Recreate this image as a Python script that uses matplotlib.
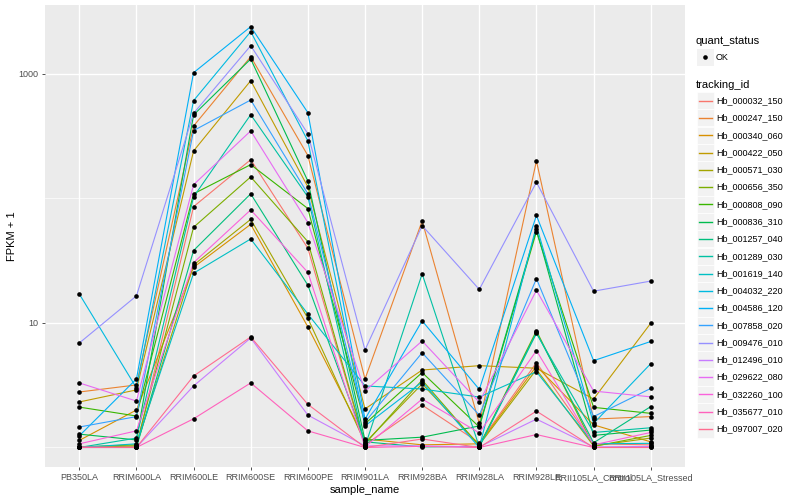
import matplotlib
matplotlib.use("Agg")
import matplotlib.pyplot as plt
from matplotlib.patches import Rectangle
import numpy as np

plt.rcParams['font.family'] = ['Liberation Sans', 'DejaVu Sans']

samples = ["PB350LA", "RRIM600LA", "RRIM600LE", "RRIM600SE", "RRIM600PE",
           "RRIM901LA", "RRIM928BA", "RRIM928LA", "RRIM928LE",
           "RRII105LA_Control", "RRII105LA_Stressed"]

tracking_ids = ["Hb_000032_150", "Hb_000247_150", "Hb_000340_060", "Hb_000422_050",
                "Hb_000571_030", "Hb_000656_350", "Hb_000808_090", "Hb_000836_310",
                "Hb_001257_040", "Hb_001289_030", "Hb_001619_140", "Hb_004032_220",
                "Hb_004586_120", "Hb_007858_020", "Hb_009476_010", "Hb_012496_010",
                "Hb_029622_080", "Hb_032260_100", "Hb_035677_010", "Hb_097007_020"]

# ggplot default hue palette for 20 levels
hue_colors = ["#F8766D", "#EA8331", "#D89000", "#C09B00", "#A3A500", "#7CAE00",
              "#39B600", "#00BB4E", "#00BF7D", "#00C1A3", "#00BFC4", "#00BAE0",
              "#00B0F6", "#35A2FF", "#9590FF", "#C77CFF", "#E76BF3", "#FA62DB",
              "#FF62BC", "#FF6C90"]

# FPKM per sample (same order as samples)
hb_000032_150 = [0, 0.01, 85, 204, 38.8, 0.05, 1.19, 0.09, 3.8, 0.07, 0.05]
hb_000247_150 = [1.79, 2.18, 381, 1376, 220, 2.55, 65, 0.56, 199, 0.69, 0.77]
hb_000340_060 = [0.14, 1.0, 27, 61, 8.3, 0.17, 0.05, 0.07, 3.5, 0.52, 0.11]
hb_000422_050 = [1.32, 1.9, 240, 882, 123, 1.04, 3.19, 3.54, 3.33, 1.45, 8.95]
hb_000571_030 = [0, 0.03, 28.2, 67, 9.9, 0.09, 2.24, 0.05, 3.23, 0.03, 0.19]
hb_000656_350 = [0.01, 0.05, 57.7, 148, 44, 0.07, 2.48, 0.03, 7.67, 0.02, 0.25]
hb_000808_090 = [1.11, 0.79, 108, 186, 82, 0.55, 3.0, 0.46, 53.1, 1.10, 0.88]
hb_000836_310 = [0.28, 0.15, 468, 1318, 137, 0.14, 0.21, 0.49, 55.6, 0.25, 0.38]
hb_001257_040 = [0, 0, 37.2, 108, 19.1, 0.11, 0.01, 0.02, 7.42, 0.09, 1.13]
hb_001289_030 = [0, 0.19, 102, 470, 102, 0.02, 23.8, 0.01, 7.24, 0.32, 0.44]
hb_001619_140 = [0, 0.07, 24.1, 46.3, 10.8, 2.12, 1.95, 1.54, 3.06, 0.07, 0.08]
hb_004032_220 = [16.1, 2.01, 610, 2187, 289, 0.49, 2.36, 0, 59.5, 0.56, 3.71]
hb_004586_120 = [0.24, 2.55, 1023, 2398, 488, 0.69, 9.4, 1.93, 72, 3.98, 6.1]
hb_007858_020 = [0.46, 0.77, 350, 617, 108, 0.6, 4.77, 0.82, 21.7, 0.77, 1.98]
hb_009476_010 = [5.9, 15.5, 482, 1686, 330, 5.07, 59.5, 17.6, 134, 17.0, 20.7]
hb_012496_010 = [0, 0, 2.12, 6.58, 0.82, 0.03, 0.03, 0.01, 0.69, 0.01, 0.02]
hb_029622_080 = [2.3, 1.36, 128, 348, 63, 1.84, 6.17, 1.31, 17.3, 1.84, 1.55]
hb_032260_100 = [0.07, 0.36, 29.5, 80, 24.5, 0.01, 1.45, 0.31, 5.0, 0.05, 0.32]
hb_035677_010 = [0, 0, 0.70, 2.30, 0.36, 0, 0.02, 0, 0.27, 0, 0]
hb_097007_020 = [0.01, 0, 2.75, 6.72, 1.22, 0, 0.17, 0, 0.96, 0, 0]

series = [hb_000032_150, hb_000247_150, hb_000340_060, hb_000422_050,
          hb_000571_030, hb_000656_350, hb_000808_090, hb_000836_310,
          hb_001257_040, hb_001289_030, hb_001619_140, hb_004032_220,
          hb_004586_120, hb_007858_020, hb_009476_010, hb_012496_010,
          hb_029622_080, hb_032260_100, hb_035677_010, hb_097007_020]

fig = plt.figure(figsize=(8, 5), dpi=100)
ax = fig.add_axes([45 / 800, 1 - 467 / 500, (685 - 45) / 800, (467 - 5) / 500])
ax.set_facecolor("#EBEBEB")
for s in ax.spines.values():
    s.set_visible(False)

x = np.arange(len(samples))
for vals, col in zip(series, hue_colors):
    y = np.array(vals) + 1
    ax.plot(x, y, color=col, lw=0.8, zorder=2)
    ax.scatter(x, y, s=11, color="black", zorder=3, linewidths=0)

ax.set_yscale("log")
ax.set_ylim(0.697, 3580)
ax.set_xlim(-0.6, 10.6)

ax.set_yticks([10, 1000])
ax.set_yticklabels(["10", "1000"])
ax.set_yticks([1, 100], minor=True)
ax.yaxis.set_minor_formatter(plt.NullFormatter())
ax.set_xticks(x)
ax.set_xticklabels(samples)

ax.grid(True, which="major", color="white", lw=1.0, zorder=0)
ax.grid(True, which="minor", axis="y", color="white", lw=0.5, zorder=0)
ax.set_axisbelow(True)
ax.tick_params(axis="both", which="major", length=2.5, width=0.6, color="#333333",
               labelsize=6.5, labelcolor="#4D4D4D", pad=2)
ax.tick_params(axis="y", which="minor", length=0)

ax.set_xlabel("sample_name", fontsize=8, labelpad=2)
ax.set_ylabel("FPKM + 1", fontsize=8, labelpad=1)

# legend drawn in pixel coordinates, ggplot style
lax = fig.add_axes([0, 0, 1, 1])
lax.set_xlim(0, 800)
lax.set_ylim(500, 0)
lax.axis("off")

lax.text(696, 41, "quant_status", fontsize=8, va="center", ha="left")
lax.add_patch(Rectangle((697, 48.5), 16.5, 17, facecolor="#F2F2F2", edgecolor="none"))
lax.scatter([705.2], [57], s=11, color="black", linewidths=0)
lax.text(716, 57, "OK", fontsize=6.5, va="center", ha="left")

lax.text(696, 84.5, "tracking_id", fontsize=8, va="center", ha="left")
for i, (tid, col) in enumerate(zip(tracking_ids, hue_colors)):
    yc = 100.7 + i * 17.28
    lax.add_patch(Rectangle((697, yc - 8.5), 16.5, 17, facecolor="#F2F2F2",
                            edgecolor="white", lw=0.5))
    lax.plot([699, 711.5], [yc, yc], color=col, lw=1.0)
    lax.text(716, yc, tid, fontsize=6.5, va="center", ha="left")

fig.savefig("out.png", dpi=100)
